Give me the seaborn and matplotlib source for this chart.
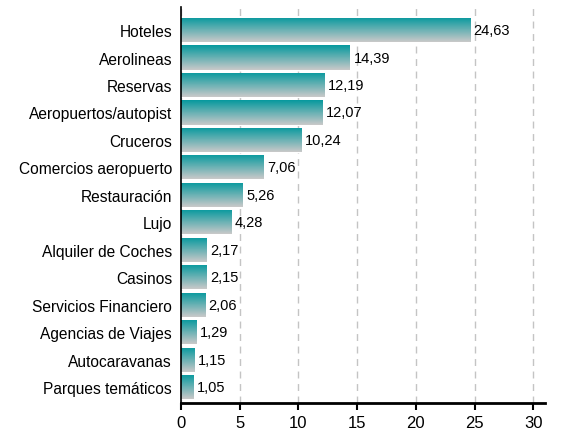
import numpy as np
import pandas as pd
import seaborn as sns
import matplotlib.pyplot as plt
from matplotlib.colors import LinearSegmentedColormap

categories = ["Hoteles", "Aerolineas", "Reservas", "Aeropuertos/autopist", "Cruceros",
              "Comercios aeropuerto", "Restauración", "Lujo", "Alquiler de Coches",
              "Casinos", "Servicios Financiero", "Agencias de Viajes",
              "Autocaravanas", "Parques temáticos"]
values = [24.63, 14.39, 12.19, 12.07, 10.24, 7.06, 5.26, 4.28, 2.17, 2.15, 2.06, 1.29, 1.15, 1.05]
labels = ["24,63", "14,39", "12,19", "12,07", "10,24", "7,06", "5,26", "4,28",
          "2,17", "2,15", "2,06", "1,29", "1,15", "1,05"]

df = pd.DataFrame({"cat": categories, "val": values})

sns.set_style("white")
plt.rcParams['font.family'] = ['Liberation Sans', 'DejaVu Sans']

fig = plt.figure(figsize=(5.74, 4.35), dpi=100)
ax = fig.add_axes([181 / 574, 1 - 404 / 435, (545 - 181) / 574, (404 - 8) / 435])

sns.barplot(data=df, x="val", y="cat", ax=ax, width=0.88, color="#0a9a9f",
            edgecolor="white", linewidth=0.8)

# gradient fill: teal on top, grey on bottom
cmap = LinearSegmentedColormap.from_list("tg", ["#07999e", "#c9c9c9"])
grad = np.linspace(0, 1, 64).reshape(-1, 1)
for p in ax.patches:
    x0, y0 = p.get_x(), p.get_y()
    w, h = p.get_width(), p.get_height()
    im = ax.imshow(grad, cmap=cmap, aspect="auto", extent=(x0, x0 + w, y0 + h, y0),
                   origin="upper", zorder=p.get_zorder() + 0.1)
    im.set_clip_path(p)
    p.set_facecolor("none")

for i, (v, lab) in enumerate(zip(values, labels)):
    ax.text(v + 0.3, i, lab, va="center", ha="left", fontsize=10.5, color="black")

ax.set_xlim(0, 31)
ax.set_ylim(13.58, -0.84)
ax.set_xticks([0, 5, 10, 15, 20, 25, 30])
ax.xaxis.grid(True, linestyle=(0, (5, 4)), color="#c4c4c4", linewidth=1)
ax.set_axisbelow(True)
ax.set_xlabel("")
ax.set_ylabel("")
for s in ["top", "right"]:
    ax.spines[s].set_visible(False)
ax.spines["left"].set_color("black")
ax.spines["left"].set_linewidth(1.2)
ax.spines["bottom"].set_color("black")
ax.spines["bottom"].set_linewidth(2)
ax.tick_params(axis="x", bottom=True, length=5, width=1.5, labelsize=12,
               color="black", labelcolor="black")
ax.tick_params(axis="y", left=False, labelsize=11.2, pad=3, labelcolor="black")

fig.savefig("out.png", dpi=100)
